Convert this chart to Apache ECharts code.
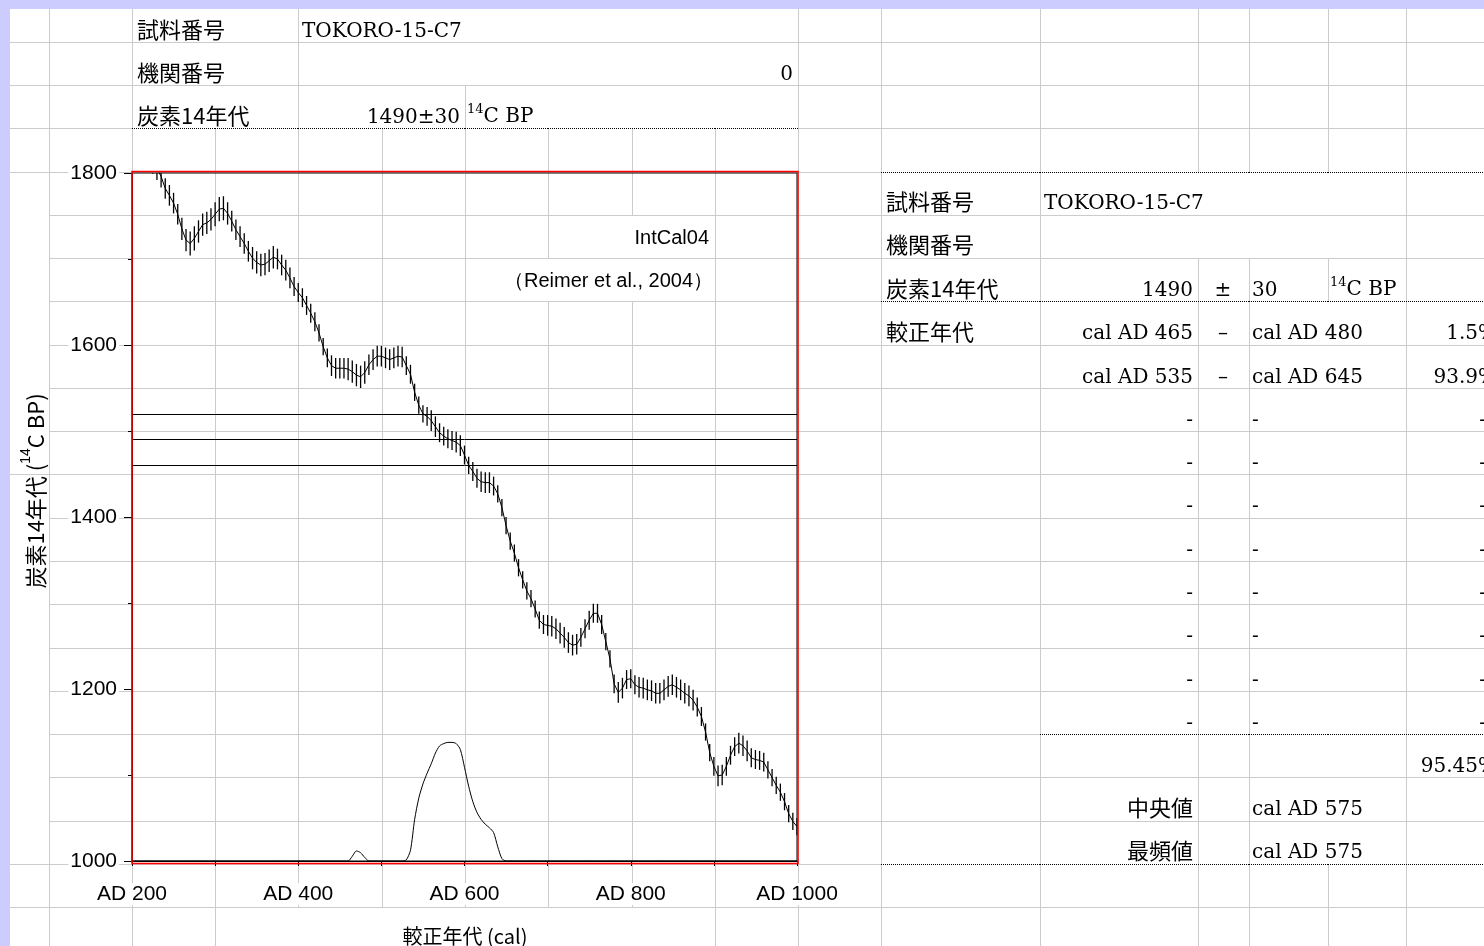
<!DOCTYPE html>
<html>
<head>
<meta charset="utf-8">
<script src="https://cdn.jsdelivr.net/npm/echarts@6/dist/echarts.min.js"></script>
<style>
  html, body { margin: 0; padding: 0; background: #fff; }
  #chart { width: 1484px; height: 946px; }
</style>
</head>
<body>
<div id="chart"></div>
<script>
// ---- sample ----
const sampleId = 'TOKORO-15-C7';
const labCode = '0';
const c14Age = 1490;
const c14Err = 30;

// ---- IntCal04 calibration curve (cal AD, 14C BP, 1 sigma) ----
const calYears = [
  200,205,210,215,220,225,230,235,240,245,
  250,255,260,265,270,275,280,285,290,295,
  300,305,310,315,320,325,330,335,340,345,
  350,355,360,365,370,375,380,385,390,395,
  400,405,410,415,420,425,430,435,440,445,
  450,455,460,465,470,475,480,485,490,495,
  500,505,510,515,520,525,530,535,540,545,
  550,555,560,565,570,575,580,585,590,595,
  600,605,610,615,620,625,630,635,640,645,
  650,655,660,665,670,675,680,685,690,695,
  700,705,710,715,720,725,730,735,740,745,
  750,755,760,765,770,775,780,785,790,795,
  800,805,810,815,820,825,830,835,840,845,
  850,855,860,865,870,875,880,885,890,895,
  900,905,910,915,920,925,930,935,940,945,
  950,955,960,965,970,975,980,985,990,995,
  1000
];
const calBP = [
  1845,1840,1832,1825,1818,1812,1805,1796,1782,1774,
  1765,1752,1735,1722,1718,1724,1732,1740,1742,1746,
  1752,1758,1759,1753,1744,1734,1726,1718,1709,1701,
  1696,1693,1694,1698,1702,1700,1693,1687,1678,1668,
  1661,1655,1646,1637,1627,1614,1598,1585,1576,1573,
  1573,1573,1572,1569,1565,1563,1568,1577,1583,1587,
  1587,1585,1583,1585,1587,1586,1576,1566,1545,1530,
  1520,1517,1512,1505,1498,1494,1491,1489,1487,1483,
  1472,1460,1453,1445,1441,1440,1440,1436,1427,1411,
  1390,1372,1358,1341,1327,1314,1305,1293,1280,1275,
  1274,1273,1270,1265,1260,1254,1251,1252,1260,1270,
  1280,1288,1288,1275,1255,1235,1206,1196,1201,1211,
  1212,1205,1202,1201,1199,1198,1195,1195,1199,1203,
  1205,1202,1199,1195,1192,1187,1179,1168,1150,1126,
  1110,1099,1100,1110,1123,1133,1137,1134,1128,1120,
  1118,1117,1115,1106,1097,1088,1080,1069,1055,1046,
  1040
];
const calSigma = [
  14,14,14,13,13,13,13,13,12,12,
  12,12,13,13,14,14,13,13,13,13,
  14,14,14,13,12,12,12,12,12,13,
  13,13,13,13,13,12,12,12,12,11,
  11,11,11,11,11,10,10,11,12,12,
  12,12,13,13,13,13,13,12,12,12,
  12,12,12,12,12,12,11,11,10,10,
  10,11,12,12,11,11,11,11,12,12,
  11,10,11,11,12,12,12,11,10,10,
  10,10,10,10,10,10,10,10,10,11,
  12,12,12,12,12,12,12,12,11,11,
  11,11,11,11,10,10,11,12,12,11,
  11,11,12,12,12,12,12,12,12,12,
  12,12,12,12,12,12,11,11,10,10,
  11,12,12,11,11,11,12,12,12,11,
  11,11,11,10,10,10,10,10,10,10,
  10
];

// ---- calibrated probability (relative to its peak) ----
const probYears = [200,455,460,465,470,475,480,485,525,530,535,540,545,550,555,560,565,570,575,580,585,590,595,600,605,610,615,620,625,630,635,640,645,650,1000];
const probValues = [0,0,0,0.04,0.085,0.07,0.03,0,0,0.01,0.09,0.35,0.53,0.65,0.74,0.82,0.91,0.97,0.99,1.0,1.0,0.99,0.94,0.79,0.63,0.5,0.41,0.35,0.31,0.28,0.24,0.12,0.02,0,0];

// ---- calibrated ranges (2 sigma) ----
const rangeFrom = [465, 535];
const rangeTo = [480, 645];
const rangeProb = ['1.5%', '93.9%'];
const rangeRows = 10;
const totalProb = '95.45%';
const medianYear = 575;
const modeYear = 575;

// ---- axis tick labels ----
const xTickLabels = [200, 400, 600, 800, 1000];
const yTickLabels = [1000, 1200, 1400, 1600, 1800];

// ---- fonts ----
const JP = '"Noto Sans CJK JP", sans-serif';
const SERIF = '"DejaVu Serif", serif';
const SANS = '"Liberation Sans", Arial, sans-serif';

// ---- worksheet cell grid ----
const COLS = [10, 49, 132, 215, 298, 382, 465, 548, 632, 715, 798, 881, 1040, 1198, 1249, 1328, 1406];
const ROWS = [9, 42, 85, 128, 172, 215, 258, 301, 345, 388, 431, 474, 518, 561, 604, 648, 691, 734, 777, 821, 864, 907, 950];
const XEDGES = COLS.concat([1484]);

function hiddenV(x, r) {
  if (x === 10) return true;
  if (r <= 1 && [215, 382, 465, 548, 632, 715].includes(x)) return true;
  if (r === 2 && [215, 382, 548, 632, 715].includes(x)) return true;
  if ((r === 5 || r === 6) && x === 632) return true;
  if (r === 6 && x === 548) return true;
  if ((r === 4 || r === 5) && [1198, 1249, 1328].includes(x)) return true;
  if (r >= 7 && r <= 19 && x === 1328) return true;
  if (r === 21 && [298, 382, 465, 548, 632].includes(x)) return true;
  return false;
}
function hKind(y, xa) {
  if (xa === 10) return [42, 85, 128, 172, 474, 864, 907].includes(y) ? 'grid' : 'none';
  if (y === 128 && xa >= 132 && xa < 798) return 'dot';
  if ([172, 301, 864].includes(y) && xa >= 881) return 'dot';
  if (y === 734 && xa >= 1040) return 'dot';
  return 'grid';
}

const G = [];
// window frame
G.push({ type: 'rect', z: -5, shape: { x: 0, y: 0, width: 1484, height: 9 }, style: { fill: '#ccccff' } });
G.push({ type: 'rect', z: -5, shape: { x: 0, y: 0, width: 10, height: 946 }, style: { fill: '#ccccff' } });

const gridStroke = { stroke: '#cccccc', lineWidth: 1 };
const dotStroke = { stroke: '#000', lineWidth: 1, lineDash: [1, 1] };
for (const x of COLS) {
  for (let r = 0; r < ROWS.length - 1; r++) {
    if (hiddenV(x, r)) continue;
    G.push({ type: 'line', z: -4, shape: { x1: x + 0.5, y1: ROWS[r], x2: x + 0.5, y2: ROWS[r + 1] }, style: gridStroke });
  }
}
for (let k = 1; k < ROWS.length - 1; k++) {
  const y = ROWS[k];
  for (let j = 0; j < XEDGES.length - 1; j++) {
    const kind = hKind(y, XEDGES[j]);
    if (kind === 'none') continue;
    G.push({ type: 'line', z: kind === 'dot' ? -3 : -4,
      shape: { x1: XEDGES[j], y1: y + 0.5, x2: XEDGES[j + 1] + 1, y2: y + 0.5 },
      style: kind === 'dot' ? dotStroke : gridStroke });
  }
}

function txt(s, x, y, o) {
  o = o || {};
  return {
    type: 'text', z: 20, x: x, y: y, rotation: o.rotation || 0,
    style: {
      text: s, fill: '#000',
      fontSize: o.size || 20, fontFamily: o.font || SERIF,
      align: o.align || 'left', textAlign: o.align || 'left',
      verticalAlign: 'middle', textVerticalAlign: 'middle',
      rich: o.rich
    }
  };
}
// serif cell text sits slightly lower in its cell
const sy = y => y + 2;
const supRich = (font, size, supSize) => ({
  s: { fontSize: supSize, fontFamily: font, verticalAlign: 'top', lineHeight: size + 4 },
  n: { fontSize: size, fontFamily: font, verticalAlign: 'bottom', lineHeight: size + 4 }
});

// header block
G.push(txt('試料番号', 137, 30, { font: JP, size: 22 }));
G.push(txt(sampleId, 302, sy(30), { size: 20 }));
G.push(txt('機関番号', 137, 73, { font: JP, size: 22 }));
G.push(txt(labCode, 793, sy(73), { size: 20, align: 'right' }));
G.push(txt('炭素14年代', 137, 116, { font: JP, size: 22 }));
G.push(txt(c14Age + '±' + c14Err, 460, sy(116), { size: 20, align: 'right' }));
G.push(txt('{s|14}{n|C BP}', 467, sy(113), { size: 20, rich: supRich(SERIF, 20, 13) }));

// annotations inside the plot
G.push(txt('IntCal04', 709, 238, { font: SANS, size: 20, align: 'right' }));
G.push(txt('（Reimer et al., 2004）', 713, 281, { font: SANS, size: 20, align: 'right' }));

// axis titles
G.push(txt('{n|炭素14年代 (}{s|14}{n|C BP)}', 33, 491, {
  font: SANS, size: 22, align: 'center', rotation: Math.PI / 2,
  rich: {
    s: { fontSize: 14, fontFamily: SANS, verticalAlign: 'top', lineHeight: 27 },
    n: { fontSize: 22, fontFamily: '"Noto Sans CJK JP", "Liberation Sans", sans-serif', verticalAlign: 'bottom', lineHeight: 27 }
  }
}));
G.push(txt('較正年代 (cal)', 465, 936, { font: '"Noto Sans CJK JP", sans-serif', size: 20, align: 'center' }));

// results table
G.push(txt('試料番号', 886, 202, { font: JP, size: 22 }));
G.push(txt(sampleId, 1044, sy(202), { size: 20 }));
G.push(txt('機関番号', 886, 245, { font: JP, size: 22 }));
G.push(txt('炭素14年代', 886, 289, { font: JP, size: 22 }));
G.push(txt(String(c14Age), 1193, sy(289), { size: 20, align: 'right' }));
G.push(txt('±', 1223, sy(289), { size: 20, align: 'center' }));
G.push(txt(String(c14Err), 1252, sy(289), { size: 20 }));
G.push(txt('{s|14}{n|C BP}', 1330, sy(286), { size: 20, rich: supRich(SERIF, 20, 13) }));
G.push(txt('較正年代', 886, 332, { font: JP, size: 22 }));
for (let i = 0; i < rangeRows; i++) {
  const y = sy(332 + (ROWS[7 + i] - ROWS[7]));
  if (i < rangeFrom.length) {
    G.push(txt('cal AD ' + rangeFrom[i], 1193, y, { size: 20, align: 'right' }));
    G.push(txt('–', 1223, y, { size: 20, align: 'center' }));
    G.push(txt('cal AD ' + rangeTo[i], 1252, y, { size: 20 }));
    G.push(txt(rangeProb[i], 1497, y, { size: 20, align: 'right' }));
  } else {
    G.push(txt('-', 1193, y, { size: 20, align: 'right' }));
    G.push(txt('-', 1252, y, { size: 20 }));
    G.push(txt('-', 1486, y, { size: 20, align: 'right' }));
  }
}
G.push(txt(totalProb, 1497, sy(765), { size: 20, align: 'right' }));
G.push(txt('中央値', 1193, 808, { font: JP, size: 22, align: 'right' }));
G.push(txt('cal AD ' + medianYear, 1252, sy(808), { size: 20 }));
G.push(txt('最頻値', 1193, 851, { font: JP, size: 22, align: 'right' }));
G.push(txt('cal AD ' + modeYear, 1252, sy(851), { size: 20 }));

// red chart frame
G.push({ type: 'rect', z: 30, shape: { x: 132, y: 171.5, width: 666, height: 692 },
  style: { fill: 'none', stroke: '#ff0000', lineWidth: 1.5 } });

function renderErrorBar(params, api) {
  const x = api.value(0), m = api.value(1), e = api.value(2);
  const hi = api.coord([x, m + e]);
  const lo = api.coord([x, m - e]);
  const cs = params.coordSys;
  const top = Math.max(hi[1], cs.y);
  const bot = Math.min(lo[1], cs.y + cs.height);
  if (bot <= top) return null;
  return { type: 'line', shape: { x1: hi[0], y1: top, x2: hi[0], y2: bot },
    style: { stroke: '#000', lineWidth: 1.3 } };
}

const chart = echarts.init(document.getElementById('chart'), null, { renderer: 'canvas' });
chart.setOption({
  animation: false,
  backgroundColor: '#fff',
  grid: { left: 132, top: 173, right: 687, bottom: 85, show: true, borderColor: '#000', borderWidth: 1,
    backgroundColor: 'transparent', containLabel: false, outerBoundsMode: 'none' },
  xAxis: {
    type: 'value', min: 200, max: 1000, interval: 100,
    axisLine: { show: true, lineStyle: { color: '#000', width: 1 } },
    axisTick: { show: true, length: 5, lineStyle: { color: '#000' } },
    axisLabel: {
      margin: 22,
      formatter: v => xTickLabels.includes(v) ? '{t|AD ' + v + '}' : '',
      rich: { t: { fontSize: 21, fontFamily: SANS, color: '#000', backgroundColor: '#fff', padding: [1, 6, 0, 6] } }
    },
    splitLine: { show: false }
  },
  yAxis: [
    {
      type: 'value', min: 1000, max: 1800, interval: 200,
      axisLine: { show: true, lineStyle: { color: '#000' } },
      axisTick: { show: true, length: 8, lineStyle: { color: '#000' } },
      minorTick: { show: true, splitNumber: 2, length: 4, lineStyle: { color: '#000' } },
      axisLabel: {
        margin: 13, fontSize: 21, fontFamily: SANS, color: '#000', backgroundColor: '#fff', padding: [0, 2],
        formatter: v => yTickLabels.includes(v) ? String(v) : ''
      },
      splitLine: { show: false }, minorSplitLine: { show: false }
    },
    { type: 'value', min: 0, max: 5.8, show: false }
  ],
  series: [
    {
      name: 'IntCal04', type: 'line', data: calYears.map((y, i) => [y, calBP[i]]),
      symbol: 'none', clip: true, z: 3, silent: true,
      lineStyle: { color: '#000', width: 1 },
      markLine: {
        silent: true, symbol: 'none', label: { show: false },
        lineStyle: { color: '#000', width: 1, type: 'solid' },
        data: [{ yAxis: c14Age + c14Err }, { yAxis: c14Age }, { yAxis: c14Age - c14Err }]
      }
    },
    {
      name: 'sigma', type: 'custom', data: calYears.map((y, i) => [y, calBP[i], calSigma[i]]),
      renderItem: renderErrorBar, z: 4, silent: true
    },
    {
      name: 'probability', type: 'line', yAxisIndex: 1,
      data: probYears.map((y, i) => [y, probValues[i]]),
      symbol: 'none', smooth: 0.25, z: 3, silent: true,
      lineStyle: { color: '#000', width: 1 }
    }
  ],
  graphic: { elements: G }
});
</script>
</body>
</html>
